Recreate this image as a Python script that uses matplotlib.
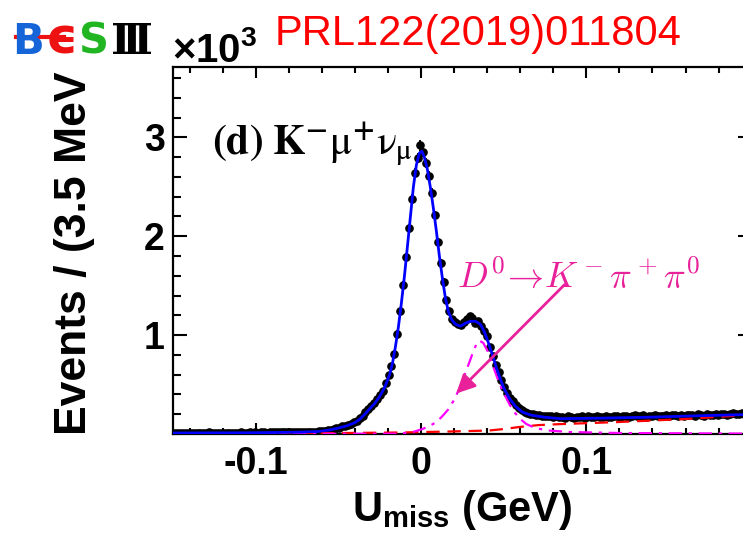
import matplotlib
matplotlib.use('Agg')
import matplotlib.pyplot as plt
import numpy as np
from matplotlib.ticker import MultipleLocator, FixedLocator
from matplotlib.lines import Line2D

plt.rcParams['font.family'] = ['Liberation Sans', 'DejaVu Sans']
plt.rcParams['mathtext.fontset'] = 'custom'
plt.rcParams['mathtext.rm'] = 'Liberation Sans'
plt.rcParams['mathtext.bf'] = 'Liberation Sans:bold'
plt.rcParams['mathtext.it'] = 'Liberation Sans:italic'

# ---------------- data ----------------
x_range = (-0.15, 0.20)
n_bins = 200  # 1.75 MeV bins

counts = [
    12, 9, 14, 11, 13, 10, 15, 12, 11, 14,
    13, 12, 16, 11, 14, 13, 12, 15, 14, 13,
    15, 14, 12, 16, 15, 13, 17, 14, 16, 15,
    16, 18, 15, 17, 16, 19, 17, 18, 20, 17,
    19, 21, 18, 22, 20, 23, 21, 24, 25, 23,
    27, 30, 35, 37, 45, 52, 60, 64, 76, 82,
    92, 103, 118, 135, 158, 186, 218, 250, 283, 318,
    352, 398, 437, 515, 596, 690, 812, 1015, 1240, 1505,
    1790, 2080, 2380, 2640, 2790, 2920, 2850, 2740, 2610, 2440,
    2210, 1940, 1730, 1540, 1350, 1240, 1160, 1130, 1110, 1100,
    1130, 1160, 1190, 1170, 1120, 1140, 1090, 1040, 990, 880,
    790, 700, 625, 545, 480, 415, 365, 330, 295, 262,
    240, 222, 215, 198, 205, 190, 192, 185, 180, 186,
    178, 172, 181, 168, 175, 166, 178, 170, 164, 176,
    170, 178, 165, 182, 173, 168, 180, 175, 169, 184,
    176, 171, 185, 178, 167, 181, 186, 174, 179, 188,
    177, 183, 190, 175, 186, 181, 192, 179, 187, 184,
    191, 182, 188, 195, 184, 190, 186, 197, 189, 193,
    187, 198, 192, 185, 200, 194, 190, 203, 196, 199,
    205, 195, 201, 208, 198, 204, 210, 202, 207, 212,
]

# total fit (x in GeV, y in 10^3 events)
fit_x = [-0.150, -0.105, -0.075, -0.0625, -0.0555, -0.050, -0.045, -0.040, -0.037,
         -0.034, -0.031, -0.028, -0.025, -0.022, -0.019, -0.0172, -0.0155, -0.0137,
         -0.0119, -0.0100, -0.0082, -0.0064, -0.0046, -0.0028, -0.0010, 0.0005,
         0.0020, 0.0038, 0.0056, 0.0075, 0.0093, 0.0111, 0.0129, 0.0147, 0.0165,
         0.0184, 0.0208, 0.0238, 0.0268, 0.0299, 0.0329, 0.0359, 0.0384, 0.0408,
         0.0432, 0.0456, 0.0481, 0.0505, 0.0535, 0.0571, 0.0614, 0.0668, 0.0747,
         0.0838, 0.108, 0.138, 0.169, 0.200]
fit_y = [0.010, 0.012, 0.018, 0.025, 0.040, 0.060, 0.082, 0.115, 0.150,
         0.200, 0.256, 0.310, 0.380, 0.470, 0.600, 0.720, 0.880, 1.080,
         1.320, 1.600, 1.900, 2.200, 2.500, 2.720, 2.840, 2.860,
         2.800, 2.680, 2.500, 2.280, 2.050, 1.800, 1.580, 1.380, 1.240,
         1.160, 1.110, 1.090, 1.120, 1.140, 1.140, 1.110, 1.030, 0.920,
         0.800, 0.670, 0.550, 0.450, 0.360, 0.280, 0.220, 0.190, 0.170,
         0.155, 0.160, 0.170, 0.185, 0.198]

# peaking background D0 -> K- pi+ pi0
kpp_x = [-0.150, -0.016, -0.011, -0.005, 0.0008, 0.005, 0.0093, 0.0129, 0.0171,
         0.0208, 0.0244, 0.0280, 0.0311, 0.0335, 0.0353, 0.0377, 0.0402, 0.0426,
         0.0450, 0.0474, 0.0505, 0.0535, 0.0565, 0.0601, 0.0638, 0.0692, 0.0771,
         0.090, 0.120, 0.200]
kpp_y = [0.000, 0.003, 0.008, 0.020, 0.050, 0.080, 0.120, 0.180, 0.260,
         0.370, 0.510, 0.670, 0.810, 0.910, 0.945, 0.920, 0.840, 0.730,
         0.620, 0.510, 0.400, 0.300, 0.220, 0.150, 0.100, 0.060, 0.035,
         0.020, 0.010, 0.004]

# other background
bkg_x = [-0.150, -0.075, -0.013, 0.017, 0.041, 0.050, 0.059, 0.071, 0.084,
         0.118, 0.158, 0.191, 0.200]
bkg_y = [0.003, 0.006, 0.015, 0.025, 0.035, 0.050, 0.070, 0.090, 0.100,
         0.120, 0.150, 0.185, 0.192]

x_ticks = [-0.1, 0.0, 0.1]
x_ticklabels = ['-0.1', '0', '0.1']
y_ticks = [1, 2, 3]
y_ticklabels = ['1', '2', '3']

# ---------------- figure ----------------
W, H = 743, 535
fig = plt.figure(figsize=(W / 100, H / 100), dpi=100)
left, right, top, bottom = 173, 751.7, 66.7, 434
ax = fig.add_axes([left / W, 1 - bottom / H, (right - left) / W, (bottom - top) / H])

edges = np.linspace(x_range[0], x_range[1], n_bins + 1)
centers = 0.5 * (edges[:-1] + edges[1:])
cnt = np.array(counts, dtype=float)

ax.errorbar(centers, cnt / 1000, yerr=np.sqrt(cnt) / 1000, fmt='o', color='black',
            ms=5.2, elinewidth=1.3, capsize=0, zorder=3)
ax.plot(bkg_x, bkg_y, color='#ff0000', lw=1.6, linestyle=(0, (6, 3.5)), zorder=4)
ax.plot(kpp_x, kpp_y, color='#ff00ff', lw=1.6, linestyle=(0, (6, 3, 1.5, 3)), zorder=4)
ax.plot(fit_x, fit_y, color='#0000ff', lw=2.0, zorder=5)

ax.set_xlim(*x_range)
ax.set_ylim(0, 3.714)

ax.xaxis.set_major_locator(FixedLocator(x_ticks))
ax.set_xticklabels(x_ticklabels)
ax.xaxis.set_minor_locator(MultipleLocator(0.02))
ax.yaxis.set_major_locator(FixedLocator(y_ticks))
ax.set_yticklabels(y_ticklabels)
ax.yaxis.set_minor_locator(MultipleLocator(0.2))

ax.tick_params(which='both', direction='in', top=True, right=True, width=1.5,
               labelsize=27)
ax.tick_params(axis='x', which='major', length=8, pad=9)
ax.tick_params(axis='x', which='minor', length=4.5)
ax.tick_params(axis='y', which='major', length=10, pad=6)
ax.tick_params(axis='y', which='minor', length=5.5)
for lab in ax.get_xticklabels() + ax.get_yticklabels():
    lab.set_fontweight('bold')
for s in ax.spines.values():
    s.set_linewidth(1.6)

ax.set_xlabel(r'$\mathbf{U}_{\mathbf{miss}}$ (GeV)', fontsize=30, fontweight='bold', labelpad=4)
ax.set_ylabel('Events / (3.5 MeV', fontsize=32, fontweight='bold')
ax.yaxis.set_label_coords(-(173 - 95) / (right - left), 0.5 + (250 - 253) / (bottom - top))
ax.yaxis.label.set_va('bottom')

# panel label
ax.text(-0.1265, 2.83, r'$\mathbf{(d)\ K}^{\mathbf{-}}\mathrm{\mu}^{\mathbf{+}}\mathrm{\nu}_{\mathrm{\mu}}$',
        math_fontfamily='stix', fontsize=30, ha='left', va='baseline', zorder=6)

# D0 -> K pi pi0 label and arrow
pink = '#e8209a'
ax.text(0.0215, 1.48, r'$D^0\!\rightarrow\! K^-\pi^+\pi^0$', math_fontfamily='cm',
        fontsize=26, color=pink, ha='left', va='baseline', zorder=6)
ax.annotate('', xy=(0.0214, 0.41), xytext=(0.0868, 1.51),
            arrowprops=dict(arrowstyle='-|>', color=pink, lw=2, mutation_scale=28,
                            shrinkA=0, shrinkB=0), zorder=6)

# exponent label
fig.text(172 / W, 1 - 62 / H, '×10$^{\\mathbf{3}}$', fontsize=29, fontweight='bold',
         ha='left', va='baseline')
# reference
fig.text(275 / W, 1 - 45 / H, 'PRL122(2019)011804', color='#ff0000', fontsize=30,
         ha='left', va='baseline')

# BESIII logo
logo_y = 1 - 54 / H
fig.text(12 / W, logo_y, 'B', color='#1565d8', fontsize=30, fontweight='bold',
         family='DejaVu Sans', ha='left', va='baseline')
fig.text(46 / W, logo_y, 'ϵ', color='#ee1111', fontsize=36, fontweight='bold',
         family='DejaVu Sans', ha='left', va='baseline')
fig.text(79 / W, logo_y, 'S', color='#22b522', fontsize=30, fontweight='bold',
         family='DejaVu Sans', ha='left', va='baseline')
fig.text(111 / W, logo_y, 'Ⅲ', color='black', fontsize=30, fontweight='bold',
         family='DejaVu Serif', ha='left', va='baseline')
fig.add_artist(Line2D([16 / W, 64 / W], [1 - 37 / H, 1 - 37 / H], color='#ee1111',
                      lw=3, transform=fig.transFigure))

fig.savefig('out.png', dpi=100)
